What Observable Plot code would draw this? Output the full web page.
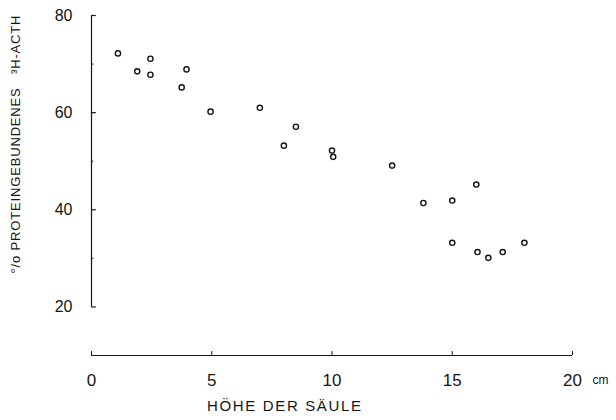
<!DOCTYPE html>
<html><head><meta charset="utf-8">
<script src="https://cdn.jsdelivr.net/npm/d3@7"></script>
<script src="https://cdn.jsdelivr.net/npm/@observablehq/plot@0.6"></script>
<style>body{margin:0;background:#fff}</style>
</head><body><div id="chart"></div>
<script>
const hoehe    = [1.1, 1.9, 2.45, 2.45, 3.75, 3.95, 4.95, 7.0, 8.5, 8.0, 10.0, 10.05, 12.5, 13.8, 15.0, 16.0, 15.0, 16.05, 16.5, 17.1, 18.0];
const gebunden = [72.2, 68.5, 71.1, 67.8, 65.2, 68.9, 60.2, 61.0, 57.1, 53.2, 52.2, 50.9, 49.1, 41.4, 41.9, 45.2, 33.2, 31.3, 30.1, 31.3, 33.2];
const xTicks = [0, 5, 10, 15, 20];
const yTicks = [20, 40, 60, 80];
const yMinor = [30, 50, 70];
const xLabel = "HÖHE DER SÄULE";
const yLabel = "°/o PROTEINGEBUNDENES\u00a0\u00a0\u00a0³H-ACTH";
const unit = "cm";

const points = hoehe.map((x, i) => ({x, y: gebunden[i]}));
const ink = "#151515";

const plot = Plot.plot({
  width: 616, height: 420,
  marginLeft: 91, marginRight: 44, marginTop: 15, marginBottom: 65,
  x: {domain: [0, 20], axis: null},
  y: {domain: [10, 80], axis: null},
  style: {fontFamily: "Liberation Sans, DejaVu Sans, sans-serif", background: "#fff", color: ink},
  marks: [
    Plot.ruleY([10], {x1: 0, x2: 20, stroke: ink, strokeWidth: 1.2}),
    Plot.ruleX([0], {y1: 20, y2: 80, stroke: ink, strokeWidth: 1.2}),
    Plot.ruleX(xTicks, {x: d => d, y1: 10, y2: 10.8, stroke: ink, strokeWidth: 1}),
    Plot.ruleY(yTicks, {y: d => d, x1: 0, x2: 0.2, stroke: ink, strokeWidth: 1.2}),
    Plot.ruleY(yMinor, {y: d => d, x1: 0, x2: 0.1, stroke: ink, strokeWidth: 1}),
    Plot.text(xTicks, {x: d => d, y: 10, dy: 25, text: d => String(d), fontSize: 17, fill: ink}),
    Plot.text(yTicks, {x: 0, y: d => d, dx: -19, text: d => String(d), textAnchor: "end", fontSize: 16, fill: ink}),
    Plot.text([unit], {x: 20, y: 10, dx: 28, dy: 25, text: d => d, fontSize: 12, fill: ink}),
    Plot.text([xLabel], {frameAnchor: "bottom", dx: -48, dy: 55, textAnchor: "middle", text: d => d, fontSize: 15, fill: ink}),
    Plot.text([yLabel], {frameAnchor: "left", dx: -76, dy: -41, rotate: -90, textAnchor: "middle", text: d => d, fontSize: 13, fill: ink}),
    Plot.dot(points, {x: "x", y: "y", r: 2.6, stroke: ink, strokeWidth: 1.4, fill: "white"})
  ]
});
d3.select(plot).selectAll("text").each(function() {
  const t = this.textContent;
  if (t === xLabel) { this.setAttribute("textLength", "154"); this.setAttribute("lengthAdjust", "spacing"); }
  if (t === yLabel) { this.setAttribute("textLength", "258"); this.setAttribute("lengthAdjust", "spacing"); }
});
document.getElementById("chart").appendChild(plot);
</script>
</body></html>
